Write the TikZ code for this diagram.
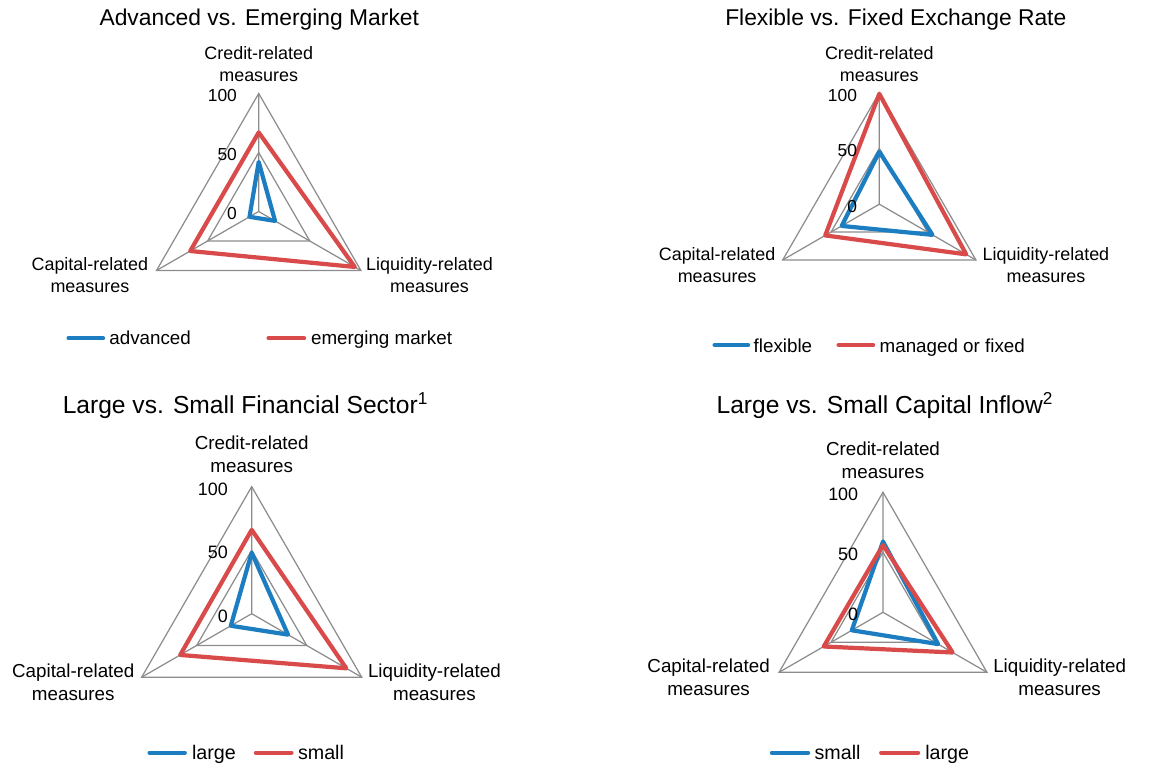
\documentclass[tikz,border=0pt]{standalone}
\usepackage{fontspec}
\setmainfont{Liberation Sans}
\usetikzlibrary{positioning}
\definecolor{gridgray}{RGB}{140,140,140}
\definecolor{serblue}{RGB}{28,125,193}
\definecolor{serred}{RGB}{217,74,74}

\begin{document}
\begin{tikzpicture}[x=0.02cm, y=0.02cm,
	gridline/.style={draw=gridgray, line width=0.7pt},
	series/.style={line width=2.4pt, line join=round},
	legline/.style={line width=2.3pt, line cap=round},
	charttitle/.style={font=\fontsize{#1}{#1}\selectfont, anchor=base, inner sep=0pt},
	axislabel/.style 2 args={font=\fontsize{#1}{#2}\selectfont, align=center, inner sep=0pt},
	ticklabel/.style={font=\fontsize{#1}{#1}\selectfont, inner sep=0pt},
	legtext/.style={font=\fontsize{#1}{#1}\selectfont, anchor=base west, inner sep=0pt}]
					\useasboundingbox (0,0) rectangle (1150,766);
					% advanced vs. emerging
					\begin{scope}[shift={(258.7,554.5)}, scale=1.18]
						\coordinate (o1) at (0,0);
						\coordinate (cr1) at (90:100);
						\coordinate (ca1) at (210:100);
						\coordinate (li1) at (330:100);
						\coordinate (h1) at (90:50);
						\draw[gridline] (cr1)--(ca1)--(li1)--cycle;
						\draw[gridline] (90:50)--(210:50)--(330:50)--cycle;
						\draw[gridline] (o1)--(cr1) (o1)--(ca1) (o1)--(li1);
						\draw[series, serblue] (90:42)--(210:9)--(330:16)--cycle;
						\draw[series, serred] (90:67)--(210:67)--(330:94)--cycle;
					\end{scope}
					\node[charttitle=13] (t1) at (259.3,740) {Advanced vs. Emerging Market};
					\node[axislabel={10.2}{12.5}, above=0.22cm of cr1] (crl1) {Credit-related\\measures};
					\node[axislabel={10.2}{12.5}, left=0.16cm of ca1, yshift=-0.1cm] (cal1) {Capital-related\\measures};
					\node[axislabel={10.2}{12.5}, right=0.1cm of li1, yshift=-0.1cm] (lil1) {Liquidity-related\\measures};
					\node[ticklabel=9.9, left=0.43cm of cr1, yshift=-0.05cm] (a100) {100};
					\node[ticklabel=9.9, left=0.43cm of h1, yshift=-0.05cm] (a50) {50};
					\node[ticklabel=9.9, left=0.43cm of o1, yshift=-0.05cm] (a0) {0};
					\draw[legline, serblue] (68.5,427.7)--(103.2,427.7);
					\node[legtext=10.7] (lg1a) at (109,421) {advanced};
					\draw[legline, serred] (268.5,427.7)--(304.2,427.7);
					\node[legtext=10.7] (lg1b) at (310.7,421) {emerging market};
					% flexible vs. fixed
					\begin{scope}[shift={(879.3,561.8)}, scale=1.115]
						\coordinate (o2) at (0,0);
						\coordinate (cr2) at (90:100);
						\coordinate (ca2) at (210:100);
						\coordinate (li2) at (330:100);
						\coordinate (h2) at (90:50);
						\draw[gridline] (cr2)--(ca2)--(li2)--cycle;
						\draw[gridline] (90:50)--(210:50)--(330:50)--cycle;
						\draw[gridline] (o2)--(cr2) (o2)--(ca2) (o2)--(li2);
						\draw[series, serblue] (90:47)--(210:39)--(330:55)--cycle;
						\draw[series, serred] (90:99)--(210:56)--(330:90)--cycle;
					\end{scope}
					\node[charttitle=13] (t2) at (895.8,740) {Flexible vs. Fixed Exchange Rate};
					\node[axislabel={10.2}{12.5}, above=0.22cm of cr2] (crl2) {Credit-related\\measures};
					\node[axislabel={10.2}{12.5}, left=0.14cm of ca2, yshift=-0.1cm] (cal2) {Capital-related\\measures};
					\node[axislabel={10.2}{12.5}, right=0.13cm of li2, yshift=-0.1cm] (lil2) {Liquidity-related\\measures};
					\node[ticklabel=9.9, left=0.44cm of cr2, yshift=-0.05cm] (b100) {100};
					\node[ticklabel=9.9, left=0.44cm of h2, yshift=-0.05cm] (b50) {50};
					\node[ticklabel=9.9, left=0.44cm of o2, yshift=-0.05cm] (b0) {0};
					\draw[legline, serblue] (714.5,421)--(748.2,421);
					\node[legtext=10.7] (lg2a) at (753.3,413.3) {flexible};
					\draw[legline, serred] (838.5,421)--(873.2,421);
					\node[legtext=10.7] (lg2b) at (879.3,413.3) {managed or fixed};
					% large vs. small financial sector
					\begin{scope}[shift={(251.7,152.3)}, scale=1.27]
						\coordinate (o3) at (0,0);
						\coordinate (cr3) at (90:100);
						\coordinate (ca3) at (210:100);
						\coordinate (li3) at (330:100);
						\coordinate (h3) at (90:50);
						\draw[gridline] (cr3)--(ca3)--(li3)--cycle;
						\draw[gridline] (90:50)--(210:50)--(330:50)--cycle;
						\draw[gridline] (o3)--(cr3) (o3)--(ca3) (o3)--(li3);
						\draw[series, serblue] (90:48)--(210:19)--(330:33)--cycle;
						\draw[series, serred] (90:66)--(210:65)--(330:86)--cycle;
					\end{scope}
					\node[charttitle=14] (t3) at (245.5,352.7) {Large vs. Small Financial Sector\textsuperscript{1}};
					\node[axislabel={10.7}{12.9}, above=0.28cm of cr3] (crl3) {Credit-related\\measures};
					\node[axislabel={10.7}{12.9}, left=0.14cm of ca3, yshift=-0.1cm] (cal3) {Capital-related\\measures};
					\node[axislabel={10.7}{12.9}, right=0.12cm of li3, yshift=-0.1cm] (lil3) {Liquidity-related\\measures};
					\node[ticklabel=10.2, left=0.47cm of cr3, yshift=-0.05cm] (c100) {100};
					\node[ticklabel=10.2, left=0.47cm of h3, yshift=-0.05cm] (c50) {50};
					\node[ticklabel=10.2, left=0.47cm of o3, yshift=-0.05cm] (c0) {0};
					\draw[legline, serblue] (149.5,13.3)--(184.9,13.3);
					\node[legtext=11.2] (lg3a) at (191.7,6.3) {large};
					\draw[legline, serred] (255.8,13.3)--(291.5,13.3);
					\node[legtext=11.2] (lg3b) at (297.7,6.3) {small};
					% large vs. small capital inflow
					\begin{scope}[shift={(883,153.7)}, scale=1.2]
						\coordinate (o4) at (0,0);
						\coordinate (cr4) at (90:100);
						\coordinate (ca4) at (210:100);
						\coordinate (li4) at (330:100);
						\coordinate (h4) at (90:50);
						\draw[gridline] (cr4)--(ca4)--(li4)--cycle;
						\draw[gridline] (90:50)--(210:50)--(330:50)--cycle;
						\draw[gridline] (o4)--(cr4) (o4)--(ca4) (o4)--(li4);
						\draw[series, serblue] (90:59)--(210:30)--(330:53)--cycle;
						\draw[series, serred] (90:56)--(210:57)--(330:67)--cycle;
					\end{scope}
					\node[charttitle=14] (t4) at (885,352.7) {Large vs. Small Capital Inflow\textsuperscript{2}};
					\node[axislabel={10.7}{13.2}, above=0.26cm of cr4] (crl4) {Credit-related\\measures};
					\node[axislabel={10.7}{13.2}, left=0.18cm of ca4, yshift=-0.1cm] (cal4) {Capital-related\\measures};
					\node[axislabel={10.7}{13.2}, right=0.12cm of li4, yshift=-0.1cm] (lil4) {Liquidity-related\\measures};
					\node[ticklabel=10.2, left=0.49cm of cr4, yshift=-0.05cm] (d100) {100};
					\node[ticklabel=10.2, left=0.49cm of h4, yshift=-0.05cm] (d50) {50};
					\node[ticklabel=10.2, left=0.49cm of o4, yshift=-0.05cm] (d0) {0};
					\draw[legline, serblue] (771.8,13.3)--(808.2,13.3);
					\node[legtext=11.2] (lg4a) at (814.3,6.3) {small};
					\draw[legline, serred] (881.1,13.3)--(918.2,13.3);
					\node[legtext=11.2] (lg4b) at (925,6.3) {large};
				\end{tikzpicture}
\end{document}
